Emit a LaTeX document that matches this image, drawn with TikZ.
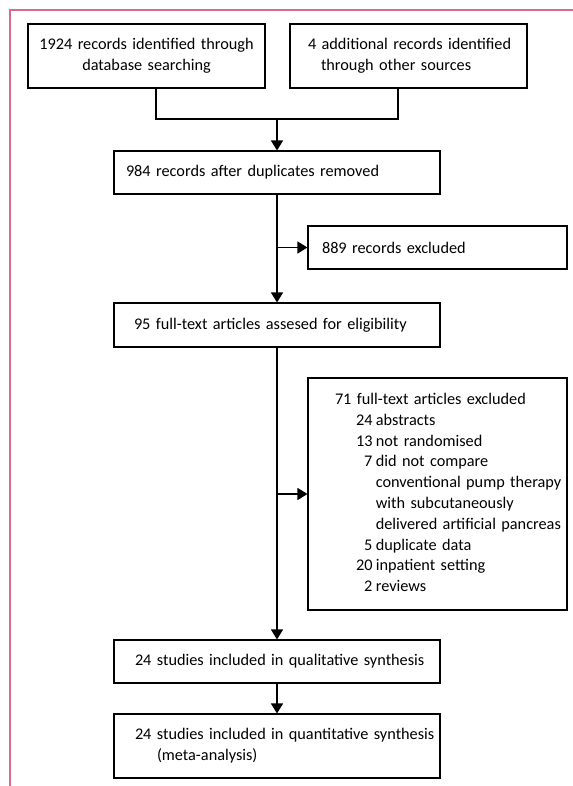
\documentclass[tikz,border=0pt]{standalone}
\usepackage{fontspec}
\setmainfont{Carlito}
\usepackage{tikz}
\usetikzlibrary{arrows.meta}
\definecolor{d66a8c}{rgb}{0.84,0.42,0.55}
\tikzstyle{every node}=[font=\fontsize{12.2pt}{15.6pt}\selectfont]
\tikzset{
  box/.style={draw, line width=0.8pt, inner xsep=0pt, align=left},
  link/.style={line width=0.9pt},
  arr/.style={line width=0.9pt, -{Triangle[length=7.5pt,width=9pt]}}
}

\begin{document}
\begin{tikzpicture}[line cap=butt,line join=miter,x=0.75pt,y=-0.75pt]
                    \useasboundingbox (0,0) rectangle (573,786);
                    \draw [line width=1.1pt,color=d66a8c] (10,786) -- (10,10) -- (573,10);
                    % identification
                    \node [box,align=center,text width=177.75pt,minimum height=48pt] (db) at (146.5,56) {1924 records identified through\\database searching};
                    \node [box,text width=177.75pt,minimum height=48pt] (other) at (408.5,56) {\hspace*{13.5pt}4 additional records identified\\\hspace*{23.25pt}through other sources};
                    \coordinate (join) at (277,119);
                    % screening
                    \node [box,text width=244.5pt,minimum height=32.25pt] (dedup) at (277,172.5) {\hspace*{9pt}984 records after duplicates removed};
                    \node [box,text width=194.25pt,minimum height=32.25pt] (excl) at (437.5,247.5) {\hspace*{10.5pt}889 records excluded};
                    \node [box,text width=244.5pt,minimum height=33pt] (full) at (277,325) {\hspace*{15pt}95 full-text articles assesed for eligibility};
                    \node [box,text width=194.25pt,minimum height=174pt] (fullex) at (437.5,494) {%
                      \begin{tabular}{@{\hspace{36pt}}r@{\hspace{2.5pt}}l@{}}
                      \multicolumn{2}{@{\hspace{20.25pt}}l@{}}{71 full-text articles excluded}\\
                      24 & abstracts\\
                      13 & not randomised\\
                      7 & did not compare\\
                       & conventional pump therapy\\
                       & with subcutaneously\\
                       & delivered artificial pancreas\\
                      5 & duplicate data\\
                      20 & inpatient setting\\
                      2 & reviews
                      \end{tabular}};
                    % included
                    \node [box,text width=244.5pt,minimum height=32.25pt] (qual) at (277,661.5) {\hspace*{15.75pt}24 studies included in qualitative synthesis};
                    \node [box,text width=244.5pt,minimum height=48pt] (quant) at (277,746) {\hspace*{15.75pt}24 studies included in quantitative synthesis\\\hspace*{32.25pt}(meta-analysis)};
                    % connectors
                    \draw [link] ([xshift=7.125pt]db.south) |- (join) -| ([xshift=-7.875pt]other.south);
                    \draw [arr] (join) -- (dedup);
                    \draw [arr] (dedup) -- (full);
                    \draw [arr] (excl.west -| dedup.south) -- (excl);
                    \draw [arr] (full) -- (qual);
                    \draw [arr] (fullex.west -| full.south) -- (fullex);
                    \draw [arr] (qual) -- (quant);
\end{tikzpicture}
\end{document}
